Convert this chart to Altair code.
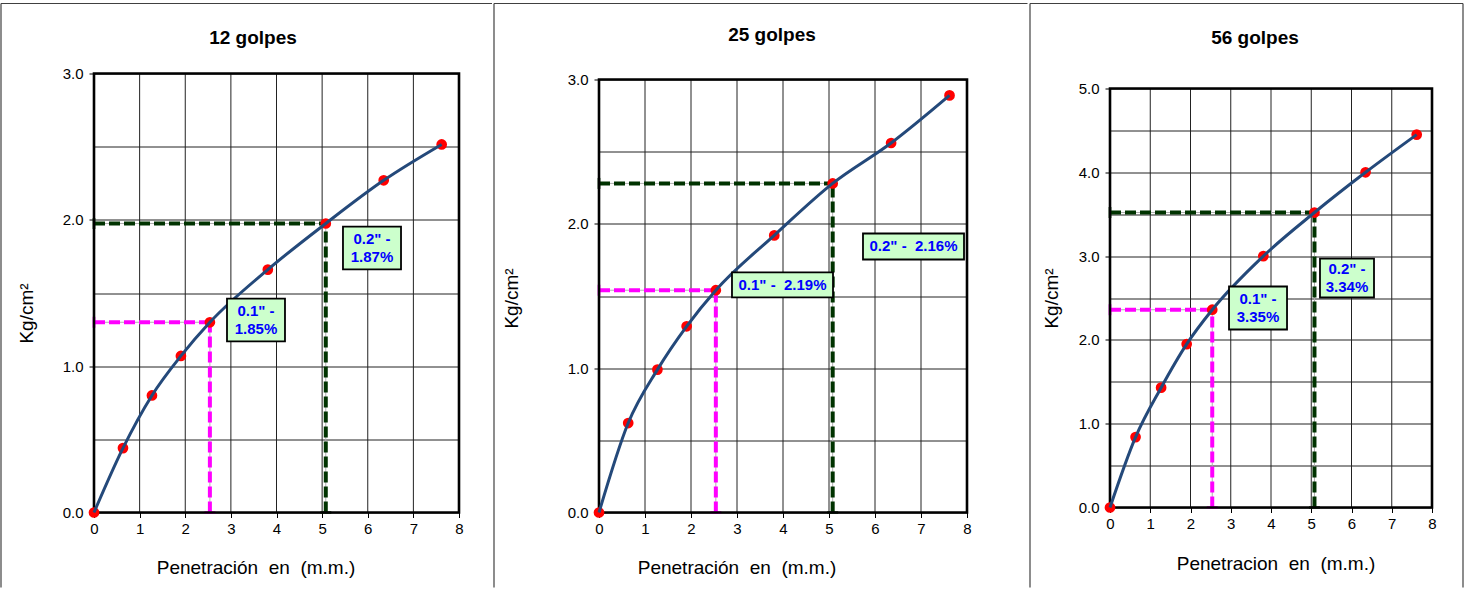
import altair as alt
import pandas as pd

FONT = "Liberation Sans"

# ---- data ----
penetration = [0, 0.635, 1.27, 1.905, 2.54, 3.81, 5.08, 6.35, 7.62]
load_12 = [0, 0.44, 0.80, 1.07, 1.30, 1.66, 1.975, 2.27, 2.515]
load_25 = [0, 0.62, 0.99, 1.29, 1.54, 1.92, 2.28, 2.56, 2.89]
load_56 = [0, 0.84, 1.43, 1.95, 2.36, 3.00, 3.52, 4.00, 4.45]

panel_titles = ["12 golpes", "25 golpes", "56 golpes"]
x_titles = ["Penetración\u00a0 en\u00a0 (m.m.)", "Penetración\u00a0 en\u00a0 (m.m.)",
            "Penetracion\u00a0 en\u00a0 (m.m.)"]
y_title = "Kg/cm²"
y_max = [3, 3, 5]
x_ticks = [0, 1, 2, 3, 4, 5, 6, 7, 8]
label_01 = ['0.1" -\n1.85%', '0.1" -\u00a0 2.19%', '0.1" -\n3.35%']
label_02 = ['0.2" -\n1.87%', '0.2" -\u00a0 2.16%', '0.2" -\n3.34%']

# ---- layout (not data) ----
plot_w = [365, 368, 322]
plot_h = [439, 439, 434]
y_range = [[439, 0], [439, 6], [434, 15]]
# box extents in data units: x1, x2, y1, y2 ; text centre x, y
box_01 = [(2.915, 4.186, 1.169, 1.462, 3.551, 1.316),
          (2.891, 5.087, 1.490, 1.663, 3.989, 1.576),
          (2.957, 4.398, 2.124, 2.637, 3.677, 2.381)]
box_02 = [(5.457, 6.729, 1.661, 1.954, 6.093, 1.808),
          (5.739, 7.935, 1.753, 1.933, 6.837, 1.843),
          (5.217, 6.559, 2.506, 2.971, 5.888, 2.739)]
# frame (local px): left, right, top, bottom
frames = [(-93, 398, -70, 514), (-105, 428.5, -70, 514), (-80, 353, -70, 514)]
right_visible = [False, False, True]
title_pos = [(159, -30), (173, -33), (145, -30)]
ytitle_pos = [(-67, 240), (-87, 225), (-58, 225)]
xtitle_pos = [(162, 494), (138, 494), (166, 490)]

MAGENTA = "#FF00FF"
GREEN = "#003300"
CURVE = "#24497A"
GRID = "#222222"


def panel(i, load):
    ymax = y_max[i]
    xs = alt.Scale(domain=[0, 8], nice=False, zero=False)
    ys = alt.Scale(domain=[0, ymax], nice=False, zero=False, range=y_range[i])
    xaxis = alt.Axis(values=x_ticks, title=None, grid=False, domain=False,
                     ticks=True, tickSize=5, tickColor="black", labelFontSize=15,
                     labelFont=FONT, labelColor="black", labelPadding=4,
                     labelFlush=False, format="d")
    yvals = [k * 0.5 for k in range(2 * ymax + 1)]
    yaxis = alt.Axis(values=yvals, title=None, grid=True, gridColor=GRID,
                     gridWidth=1, domain=False, ticks=True, tickSize=5,
                     tickColor="black",
                     tickOpacity={"condition": {"test": "datum.value % 1 == 0", "value": 1}, "value": 0},
                     labelExpr="datum.value % 1 == 0 ? format(datum.value, '.1f') : ''",
                     labelFontSize=15, labelFont=FONT, labelColor="black",
                     labelPadding=6, labelFlush=False)
    X = alt.X("x:Q", scale=xs, axis=xaxis, title=None)
    Y = alt.Y("y:Q", scale=ys, axis=yaxis, title=None)
    X2 = alt.X2("x2:Q", title=None)
    Y2 = alt.Y2("y2:Q", title=None)

    # vertical grid lines and plot border, through the scales
    vgrid_df = pd.DataFrame({"x": x_ticks, "y": [0] * len(x_ticks),
                             "y2": [ymax] * len(x_ticks)})
    vgrid = alt.Chart(vgrid_df).mark_rule(color=GRID, strokeWidth=1).encode(x=X, y=Y, y2=Y2)
    border_df = pd.DataFrame({"x": [0], "x2": [8], "y": [0], "y2": [ymax]})
    border = alt.Chart(border_df).mark_rect(fillOpacity=0, stroke="black",
                                            strokeWidth=2.6).encode(x=X, y=Y, x2=X2, y2=Y2)

    df = pd.DataFrame({"x": penetration, "y": load})
    v1 = load[4]
    v2 = load[6]
    x1 = penetration[4]
    x2 = penetration[6]
    drops = pd.DataFrame({
        "x": [0, x1, 0, x2],
        "x2": [x1, x1, x2, x2],
        "y": [v1, 0, v2, 0],
        "y2": [v1, v1, v2, v2],
        "c": ["m", "m", "g", "g"],
    })
    color_scale = alt.Scale(domain=["m", "g"], range=[MAGENTA, GREEN])

    thin = alt.Chart(drops).mark_rule(color="#b0b0b0", strokeWidth=1).encode(
        x=X, y=Y, x2=X2, y2=Y2)
    dashed = alt.Chart(drops).mark_rule(strokeWidth=4, strokeDash=[11, 4]).encode(
        x=X, y=Y, x2=X2, y2=Y2,
        color=alt.Color("c:N", scale=color_scale, legend=None))
    caps_b = pd.DataFrame({"x": [x1, x2], "y": [0, 0], "c": ["m", "g"]})
    caps_l = pd.DataFrame({"x": [0, 0], "y": [v1, v2], "c": ["m", "g"]})
    cap_bottom = alt.Chart(caps_b).mark_tick(orient="horizontal", size=11, thickness=3).encode(
        x=X, y=Y, color=alt.Color("c:N", scale=color_scale, legend=None))
    cap_left = alt.Chart(caps_l).mark_tick(orient="vertical", size=11, thickness=3).encode(
        x=X, y=Y, color=alt.Color("c:N", scale=color_scale, legend=None))

    pts = alt.Chart(df).mark_circle(size=115, color="#FF0000", opacity=1).encode(x=X, y=Y)
    curve = alt.Chart(df).mark_line(color=CURVE, strokeWidth=3,
                                    interpolate="monotone").encode(x=X, y=Y)

    b1 = box_01[i]
    b2 = box_02[i]
    boxes = pd.DataFrame({
        "x": [b1[0], b2[0]], "x2": [b1[1], b2[1]],
        "y": [b1[2], b2[2]], "y2": [b1[3], b2[3]],
        "tx": [b1[4], b2[4]], "ty": [b1[5], b2[5]],
        "label": [label_01[i], label_02[i]],
    })
    two_line = "\n" in label_01[i]
    rects = alt.Chart(boxes).mark_rect(fill="#CCFFCC", stroke="black", strokeWidth=1.8).encode(
        x=X, y=Y, x2=X2, y2=Y2)
    texts = alt.Chart(boxes).mark_text(
        font=FONT, fontSize=15, fontWeight="bold", color="#0000FF",
        lineBreak="\n", lineHeight=18, align="center", baseline="middle",
        dy=-9 if two_line else 0
    ).encode(x=alt.X("tx:Q", scale=xs, axis=xaxis, title=None),
             y=alt.Y("ty:Q", scale=ys, axis=yaxis, title=None),
             text="label:N")

    one = pd.DataFrame({"k": [0]})
    fl, fr, ft, fb = frames[i]
    frame_left = alt.Chart(one).mark_rule(color="#404040", strokeWidth=1.2).encode(
        x=alt.value(fl), y=alt.value(ft), y2=alt.value(fb))
    frame_top = alt.Chart(one).mark_rule(color="#404040", strokeWidth=1.2).encode(
        x=alt.value(fl), x2=alt.value(fr), y=alt.value(ft))
    frame_right = alt.Chart(one).mark_rule(
        color="#404040", strokeWidth=1.2, opacity=1 if right_visible[i] else 0).encode(
        x=alt.value(fr), y=alt.value(ft), y2=alt.value(fb))

    tx, ty = title_pos[i]
    title = alt.Chart(one).mark_text(font=FONT, fontSize=19, fontWeight="bold",
                                     color="black", align="center", baseline="alphabetic",
                                     text=panel_titles[i]).encode(
        x=alt.value(tx), y=alt.value(ty))
    yx, yy = ytitle_pos[i]
    ytitle = alt.Chart(one).mark_text(font=FONT, fontSize=19, color="black", angle=270,
                                      align="center", baseline="middle", text=y_title).encode(
        x=alt.value(yx), y=alt.value(yy))
    xx, xy = xtitle_pos[i]
    xtitle = alt.Chart(one).mark_text(font=FONT, fontSize=19, color="black",
                                      align="center", baseline="middle", text=x_titles[i]).encode(
        x=alt.value(xx), y=alt.value(xy))

    return alt.layer(
        vgrid, thin, dashed, cap_bottom, cap_left, border, pts, curve, rects, texts,
        frame_left, frame_top, frame_right, title, ytitle, xtitle
    ).properties(width=plot_w[i], height=plot_h[i])


p1 = panel(0, load_12)
p2 = panel(1, load_25)
p3 = panel(2, load_56)

chart = alt.concat(p1, p2, p3, columns=3, spacing=0, align="none", bounds="full").properties(
    padding={"left": 0, "top": 2.5, "right": 0, "bottom": 0},
    background="white",
).configure_view(strokeWidth=0)

chart.save("out.html", embed_options={"renderer": "svg", "actions": False})
